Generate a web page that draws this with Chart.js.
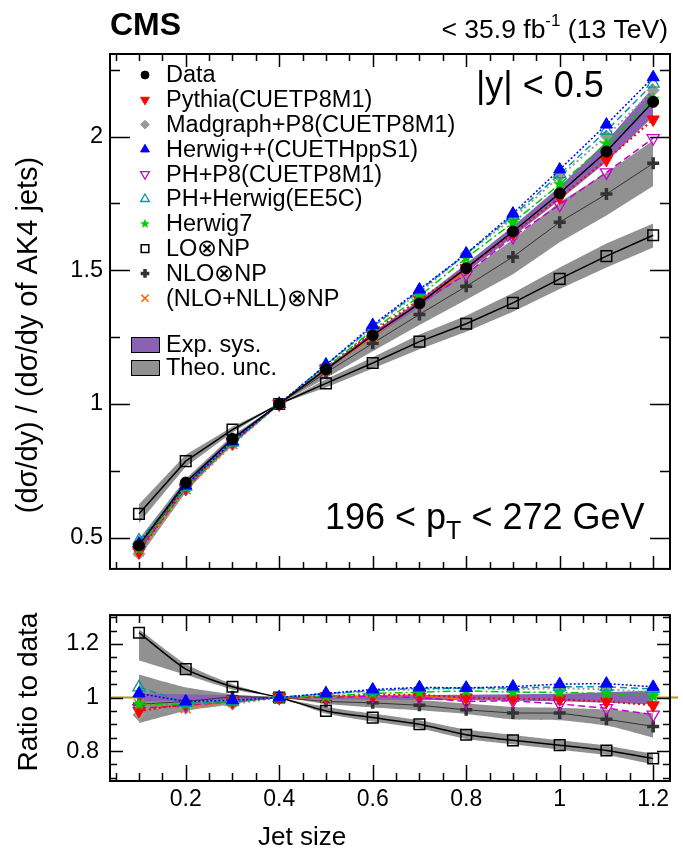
<!DOCTYPE html>
<html>
<head>
<meta charset="utf-8">
<script src="https://cdn.jsdelivr.net/npm/chart.js@4.4.1/dist/chart.umd.min.js"></script>
<style>
  body { margin: 0; background: #fff; }
  #wrap { position: relative; width: 683px; height: 851px; }
  canvas { position: absolute; left: 0; }
  #main { top: 0; }
  #ratio { top: 590px; }
</style>
</head>
<body>
<div id="wrap">
  <canvas id="main" width="683" height="590"></canvas>
  <canvas id="ratio" width="683" height="261"></canvas>
</div>
<script>
// --- jet sizes and tick labels ---
const jetSize = [0.1, 0.2, 0.3, 0.4, 0.5, 0.6, 0.7, 0.8, 0.9, 1.0, 1.1, 1.2];
const nllJetSize = [0.1, 0.2, 0.3, 0.4, 0.5, 0.6, 0.7, 0.8];
const xTickValues = [0.2, 0.4, 0.6, 0.8, 1.0, 1.2];
const xTickLabels = ['0.2', '0.4', '0.6', '0.8', '1', '1.2'];
const topTickValues = [0.5, 1, 1.5, 2];
const topTickLabels = ['0.5', '1', '1.5', '2'];
const ratioTickValues = [0.8, 1, 1.2];
const ratioTickLabels = ['0.8', '1', '1.2'];

// --- upper panel: cross section ratio to AK4 ---
const dataTop      = [0.471, 0.706, 0.869, 1, 1.129, 1.257, 1.376, 1.508, 1.645, 1.788, 1.944, 2.130];
const pythiaTop    = [0.447, 0.688, 0.856, 1, 1.135, 1.270, 1.390, 1.508, 1.637, 1.772, 1.913, 2.064];
const madgraphTop  = [0.440, 0.678, 0.847, 1, 1.143, 1.288, 1.417, 1.561, 1.694, 1.851, 2.002, 2.173];
const herwigppTop  = [0.478, 0.695, 0.860, 1, 1.146, 1.295, 1.428, 1.562, 1.712, 1.877, 2.045, 2.222];
const phP8Top      = [0.452, 0.685, 0.856, 1, 1.129, 1.263, 1.376, 1.485, 1.625, 1.745, 1.866, 1.994];
const phHerwigTop  = [0.489, 0.692, 0.856, 1, 1.146, 1.288, 1.424, 1.561, 1.704, 1.860, 2.022, 2.198];
const herwig7Top   = [0.459, 0.688, 0.856, 1, 1.135, 1.276, 1.403, 1.546, 1.678, 1.822, 1.973, 2.140];
const loTop        = [0.589, 0.786, 0.904, 1, 1.077, 1.153, 1.233, 1.300, 1.378, 1.468, 1.553, 1.631];
const nloTop       = [0.460, 0.695, 0.870, 1, 1.117, 1.227, 1.335, 1.440, 1.550, 1.680, 1.785, 1.900];
const nllTop       = [0.449, 0.681, 0.850, 1, 1.129, 1.251, 1.380, 1.496];

const expTopUp = [0.478, 0.714, 0.876, 1, 1.136, 1.267, 1.389, 1.524, 1.665, 1.813, 1.983, 2.185];
const expTopLo = [0.464, 0.698, 0.862, 1, 1.122, 1.247, 1.363, 1.492, 1.625, 1.763, 1.905, 2.075];
const nloTopUp = [0.495, 0.720, 0.882, 1, 1.137, 1.257, 1.375, 1.490, 1.615, 1.755, 1.865, 1.985];
const nloTopLo = [0.425, 0.670, 0.858, 1, 1.097, 1.197, 1.295, 1.390, 1.485, 1.605, 1.705, 1.815];
const loTopUp  = [0.625, 0.810, 0.915, 1, 1.092, 1.175, 1.260, 1.330, 1.415, 1.510, 1.600, 1.675];
const loTopLo  = [0.555, 0.765, 0.893, 1, 1.062, 1.133, 1.205, 1.270, 1.345, 1.430, 1.510, 1.585];

// --- lower panel: ratio to data ---
const pythiaRatio   = [0.950, 0.975, 0.985, 1, 1.005, 1.010, 1.010, 1.000, 0.995, 0.993, 0.985, 0.971];
const madgraphRatio = [0.935, 0.960, 0.975, 1, 1.012, 1.025, 1.030, 1.035, 1.030, 1.035, 1.030, 1.020];
const herwigppRatio = [1.015, 0.985, 0.990, 1, 1.015, 1.030, 1.038, 1.036, 1.041, 1.050, 1.052, 1.040];
const phP8Ratio     = [0.960, 0.970, 0.985, 1, 1.000, 1.005, 1.000, 0.985, 0.988, 0.976, 0.960, 0.936];
const phHerwigRatio = [1.038, 0.980, 0.985, 1, 1.015, 1.025, 1.035, 1.035, 1.036, 1.040, 1.040, 1.032];
const herwig7Ratio  = [0.975, 0.975, 0.985, 1, 1.005, 1.015, 1.020, 1.025, 1.020, 1.019, 1.015, 1.005];
const loRatio       = [1.242, 1.106, 1.040, 1, 0.950, 0.925, 0.900, 0.861, 0.840, 0.822, 0.802, 0.772];
const nloRatio      = [0.975, 0.985, 1.003, 1, 0.985, 0.980, 0.971, 0.954, 0.942, 0.942, 0.919, 0.892];
const nllRatio      = [0.975, 0.960, 0.985, 1, 1.000, 1.005, 1.009, 0.991];

const expRatioUp = [1.015, 1.012, 1.008, 1, 1.006, 1.008, 1.009, 1.010, 1.012, 1.014, 1.020, 1.026];
const expRatioLo = [0.985, 0.988, 0.992, 1, 0.994, 0.992, 0.991, 0.990, 0.988, 0.986, 0.980, 0.974];
const nloRatioUp = [1.086, 1.038, 1.012, 1, 0.998, 0.996, 0.990, 0.978, 0.965, 0.962, 0.955, 0.940];
const nloRatioLo = [0.905, 0.950, 0.975, 1, 0.976, 0.963, 0.952, 0.938, 0.918, 0.915, 0.895, 0.850];
const loRatioUp  = [1.255, 1.125, 1.050, 1, 0.965, 0.940, 0.915, 0.880, 0.860, 0.840, 0.820, 0.790];
const loRatioLo  = [1.138, 1.085, 1.030, 1, 0.940, 0.910, 0.885, 0.845, 0.825, 0.805, 0.785, 0.750];

const FONT = '"Liberation Sans", Arial, Helvetica, sans-serif';
Chart.defaults.font.family = FONT;
Chart.defaults.color = '#000';

// filled five-point star used for Herwig7
function starImage(color, r) {
  const c = document.createElement('canvas');
  const s = Math.ceil(2 * r + 2);
  c.width = c.height = s;
  const g = c.getContext('2d');
  g.fillStyle = color;
  g.beginPath();
  for (let i = 0; i < 10; i++) {
    const rad = i % 2 ? r * 0.45 : r;
    const a = -Math.PI / 2 + i * Math.PI / 5;
    g.lineTo(s / 2 + rad * Math.cos(a), s / 2 + rad * Math.sin(a));
  }
  g.closePath();
  g.fill();
  return c;
}

const NONE = 'rgba(0,0,0,0)';
const styles = {
  data:     { color: '#000000', fill: '#000000', pointStyle: 'circle',   radius: 5.5, bw: 1,   lw: 1.5, dash: [] },
  pythia:   { color: '#ff0000', fill: '#ff0000', pointStyle: 'triangle', radius: 7, rotation: 180, bw: 1, lw: 2, dash: [2, 3] },
  madgraph: { color: '#9a9a9a', fill: '#9a9a9a', pointStyle: 'rectRot',  radius: 6,   bw: 1,   lw: 2,   dash: [2, 3] },
  herwigpp: { color: '#0000ff', fill: '#0000ff', pointStyle: 'triangle', radius: 7,   bw: 1,   lw: 1.5, dash: [2, 2] },
  phP8:     { color: '#cc00cc', fill: NONE,      pointStyle: 'triangle', radius: 7, rotation: 180, bw: 1.3, lw: 1.5, dash: [7, 4] },
  phHerwig: { color: '#009b9b', fill: NONE,      pointStyle: 'triangle', radius: 7,   bw: 1.3, lw: 1.5, dash: [7, 4] },
  herwig7:  { color: '#00cc00', fill: '#00cc00', pointStyle: starImage('#00cc00', 7), radius: 7, bw: 1, lw: 1.5, dash: [8, 3, 2, 3] },
  lo:       { color: '#000000', fill: NONE,      pointStyle: 'rect',     radius: 7.5, bw: 1.5, lw: 1.5, dash: [] },
  nlo:      { color: '#333333', fill: '#333333', pointStyle: 'cross',    radius: 6,   bw: 3.5, lw: 1,   dash: [] },
  nll:      { color: '#ff6600', fill: NONE,      pointStyle: 'crossRot', radius: 7,   bw: 1.5, lw: 1.5, dash: [] }
};
const legendStar = starImage('#00cc00', 5);
const expColor = '#8a62b4';
const theoColor = '#919191';

function pts(xs, ys) {
  return ys.map((y, i) => ({ x: xs[i], y }));
}

function series(ys, st, order, xs, tension) {
  return {
    data: pts(xs || jetSize, ys),
    borderColor: st.color,
    borderWidth: st.lw,
    borderDash: st.dash,
    pointStyle: st.pointStyle,
    pointRadius: st.radius,
    pointRotation: st.rotation || 0,
    pointBorderWidth: st.bw,
    pointBorderColor: st.color,
    pointBackgroundColor: st.fill,
    tension: tension || 0,
    fill: false,
    order
  };
}

function band(up, lo, color, order, tension) {
  const edge = { borderWidth: 0, borderColor: NONE, pointRadius: 0, tension: tension || 0, order };
  return [
    Object.assign({ data: pts(jetSize, up), fill: false }, edge),
    Object.assign({ data: pts(jetSize, lo), fill: '-1', backgroundColor: color }, edge)
  ];
}

const X_MIN = 0.038, X_MAX = 1.236;

// inward ticks on all four sides plus the frame
function frameTicks(chart, t) {
  const { ctx, chartArea: a, scales } = chart;
  const xs = scales.x, ys = scales.y;
  ctx.save();
  ctx.strokeStyle = '#000';
  ctx.lineWidth = 1.5;
  ctx.beginPath();
  const near = (v, step) => Math.abs(v / step - Math.round(v / step)) < 1e-6;
  for (let k = Math.ceil(xs.min / t.xMinor - 1e-9); k * t.xMinor <= xs.max + 1e-9; k++) {
    const v = k * t.xMinor;
    const len = near(v, t.xMajor) ? t.xMajorLen : t.xMinorLen;
    const px = Math.round(xs.getPixelForValue(v)) + 0.5;
    ctx.moveTo(px, a.bottom); ctx.lineTo(px, a.bottom - len);
    ctx.moveTo(px, a.top); ctx.lineTo(px, a.top + len);
  }
  for (let k = Math.ceil(ys.min / t.yMinor - 1e-9); k * t.yMinor <= ys.max + 1e-9; k++) {
    const v = k * t.yMinor;
    const len = near(v, t.yMajor) ? t.yMajorLen : t.yMinorLen;
    const py = Math.round(ys.getPixelForValue(v)) + 0.5;
    ctx.moveTo(a.left, py); ctx.lineTo(a.left + len, py);
    ctx.moveTo(a.right, py); ctx.lineTo(a.right - len, py);
  }
  ctx.stroke();
  ctx.lineWidth = 2;
  ctx.strokeRect(a.left, a.top, a.right - a.left, a.bottom - a.top);
  ctx.restore();
}

function verticalTitle(ctx, text, x, y, size) {
  ctx.save();
  ctx.translate(x, y);
  ctx.rotate(-Math.PI / 2);
  ctx.font = size + 'px ' + FONT;
  ctx.textAlign = 'center';
  ctx.textBaseline = 'middle';
  ctx.fillStyle = '#000';
  ctx.fillText(text, 0, 0);
  ctx.restore();
}

// legend markers are drawn a bit smaller than the plotted ones
function drawMarker(ctx, st, x, y) {
  ctx.save();
  ctx.strokeStyle = st.color;
  ctx.fillStyle = st.fill === NONE ? '#fff' : st.fill;
  ctx.lineWidth = st.bw;
  const style = st === styles.herwig7 ? legendStar : st.pointStyle;
  Chart.helpers.drawPoint(ctx, { pointStyle: style, radius: st.radius * 0.72, rotation: st.rotation || 0, borderWidth: st.bw }, x, y);
  ctx.restore();
}

const legendEntries = [
  ['Data', styles.data],
  ['Pythia(CUETP8M1)', styles.pythia],
  ['Madgraph+P8(CUETP8M1)', styles.madgraph],
  ['Herwig++(CUETHppS1)', styles.herwigpp],
  ['PH+P8(CUETP8M1)', styles.phP8],
  ['PH+Herwig(EE5C)', styles.phHerwig],
  ['Herwig7', styles.herwig7],
  ['LO\u2297NP', styles.lo],
  ['NLO\u2297NP', styles.nlo],
  ['(NLO+NLL)\u2297NP', styles.nll]
];
const bandEntries = [['Exp. sys.', expColor], ['Theo. unc.', theoColor]];

const mainDecor = {
  id: 'mainDecor',
  afterDraw(chart) {
    const ctx = chart.ctx;
    frameTicks(chart, { xMinor: 0.05, xMajor: 0.2, xMinorLen: 7, xMajorLen: 13,
                        yMinor: 0.25, yMajor: 0.5, yMinorLen: 10, yMajorLen: 20 });
    ctx.save();
    ctx.fillStyle = '#000';
    ctx.textBaseline = 'alphabetic';

    // header
    ctx.font = 'bold 32px ' + FONT;
    ctx.textAlign = 'left';
    ctx.fillText('CMS', 110, 35);
    ctx.font = '26.5px ' + FONT;
    const partA = '< 35.9 fb', sup = '-1', partB = ' (13 TeV)';
    const wA = ctx.measureText(partA).width, wB = ctx.measureText(partB).width;
    ctx.font = '17px ' + FONT;
    const wS = ctx.measureText(sup).width;
    let x0 = 668 - wA - wS - wB;
    ctx.font = '26.5px ' + FONT;
    ctx.fillText(partA, x0, 38);
    ctx.font = '17px ' + FONT;
    ctx.fillText(sup, x0 + wA, 26);
    ctx.font = '26.5px ' + FONT;
    ctx.fillText(partB, x0 + wA + wS, 38);

    // rapidity bin and pT range
    ctx.font = '36px ' + FONT;
    ctx.fillText('|y| < 0.5', 476, 97);
    ctx.font = '36px ' + FONT;
    const p1 = '196 < p', p2 = ' < 272 GeV';
    ctx.fillText(p1, 325, 529);
    const w1 = ctx.measureText(p1).width;
    ctx.font = '25px ' + FONT;
    ctx.fillText('T', 325 + w1, 539);
    const wT = ctx.measureText('T').width;
    ctx.font = '36px ' + FONT;
    ctx.fillText(p2, 325 + w1 + wT, 529);

    // legend
    ctx.font = '23.5px ' + FONT;
    ctx.textBaseline = 'middle';
    legendEntries.forEach(([label, st], i) => {
      const y = 75 + i * 24.8;
      drawMarker(ctx, st, 145, y);
      ctx.fillStyle = '#000';
      ctx.fillText(label, 166, y + 1);
    });
    bandEntries.forEach(([label, color], i) => {
      const y = 345 + i * 23;
      ctx.fillStyle = color;
      ctx.fillRect(131, y - 8, 29, 16);
      ctx.strokeStyle = '#000';
      ctx.lineWidth = 1;
      ctx.strokeRect(131.5, y - 7.5, 28, 15);
      ctx.fillStyle = '#000';
      ctx.fillText(label, 166, y + 1);
    });
    ctx.restore();

    verticalTitle(ctx, '(d\u03c3/dy) / (d\u03c3/dy of AK4 jets)', 29, 335, 29);
  }
};

const ratioDecor = {
  id: 'ratioDecor',
  beforeDatasetsDraw(chart) {
    // reference line at unity
    const { ctx, chartArea: a, scales } = chart;
    const py = scales.y.getPixelForValue(1);
    ctx.save();
    ctx.strokeStyle = '#a89d10';
    ctx.lineWidth = 2;
    ctx.beginPath();
    ctx.moveTo(a.left, py);
    ctx.lineTo(a.right + 8, py);
    ctx.stroke();
    ctx.restore();
  },
  afterDraw(chart) {
    const ctx = chart.ctx;
    frameTicks(chart, { xMinor: 0.05, xMajor: 0.2, xMinorLen: 8, xMajorLen: 16,
                        yMinor: 0.05, yMajor: 0.2, yMinorLen: 7, yMajorLen: 13 });
    verticalTitle(ctx, 'Ratio to data', 29, 102, 28);
    ctx.save();
    ctx.font = '26px ' + FONT;
    ctx.fillStyle = '#000';
    ctx.textAlign = 'left';
    ctx.textBaseline = 'alphabetic';
    ctx.fillText('Jet size', 258, 255);
    ctx.restore();
  }
};

function yScale(min, max, values, labels, width, pad) {
  return {
    type: 'linear', min, max,
    grid: { display: false, drawTicks: false },
    border: { display: false },
    afterBuildTicks: s => { s.ticks = values.map(v => ({ value: v })); },
    afterFit: s => { s.width = width; },
    ticks: { callback: (v, i) => labels[i], font: { size: 23.5 }, padding: pad, autoSkip: false }
  };
}

// upper panel
new Chart(document.getElementById('main'), {
  type: 'line',
  data: {
    datasets: [
      ...band(loTopUp, loTopLo, theoColor, 50),
      ...band(nloTopUp, nloTopLo, theoColor, 50),
      ...band(expTopUp, expTopLo, expColor, 40),
      series(loTop, styles.lo, 12),
      series(nloTop, styles.nlo, 12),
      series(nllTop, styles.nll, 11, nllJetSize),
      series(madgraphTop, styles.madgraph, 10),
      series(phP8Top, styles.phP8, 9),
      series(pythiaTop, styles.pythia, 8),
      series(herwig7Top, styles.herwig7, 7),
      series(phHerwigTop, styles.phHerwig, 6),
      series(herwigppTop, styles.herwigpp, 5),
      series(dataTop, styles.data, 1)
    ]
  },
  options: {
    responsive: false,
    animation: false,
    layout: { padding: { left: 0, right: 13, top: 54, bottom: 12 } },
    plugins: { legend: { display: false }, tooltip: { enabled: false } },
    scales: {
      x: { type: 'linear', min: X_MIN, max: X_MAX, display: false },
      y: yScale(0.383, 2.309, topTickValues, topTickLabels, 110, 7)
    }
  },
  plugins: [mainDecor]
});

// lower panel
new Chart(document.getElementById('ratio'), {
  type: 'line',
  data: {
    datasets: [
      ...band(loRatioUp, loRatioLo, theoColor, 50, 0.2),
      ...band(nloRatioUp, nloRatioLo, theoColor, 50, 0.2),
      ...band(expRatioUp, expRatioLo, expColor, 40),
      series(loRatio, styles.lo, 12, null, 0.2),
      series(nloRatio, styles.nlo, 12),
      series(nllRatio, styles.nll, 11, nllJetSize),
      series(madgraphRatio, styles.madgraph, 10),
      series(phP8Ratio, styles.phP8, 9),
      series(pythiaRatio, styles.pythia, 8),
      series(herwig7Ratio, styles.herwig7, 7),
      series(phHerwigRatio, styles.phHerwig, 6),
      series(herwigppRatio, styles.herwigpp, 5)
    ]
  },
  options: {
    responsive: false,
    animation: false,
    layout: { padding: { left: 0, right: 13, top: 15, bottom: 0 } },
    plugins: { legend: { display: false }, tooltip: { enabled: false } },
    scales: {
      x: {
        type: 'linear', min: X_MIN, max: X_MAX,
        grid: { display: false, drawTicks: false },
        border: { display: false },
        afterBuildTicks: s => { s.ticks = xTickValues.map(v => ({ value: v })); },
        afterFit: s => { s.height = 70; },
        ticks: { callback: (v, i) => xTickLabels[i], font: { size: 23 }, padding: 5, autoSkip: false, maxRotation: 0 }
      },
      y: yScale(0.688, 1.308, ratioTickValues, ratioTickLabels, 110, 11)
    }
  },
  plugins: [ratioDecor]
});
</script>
</body>
</html>
